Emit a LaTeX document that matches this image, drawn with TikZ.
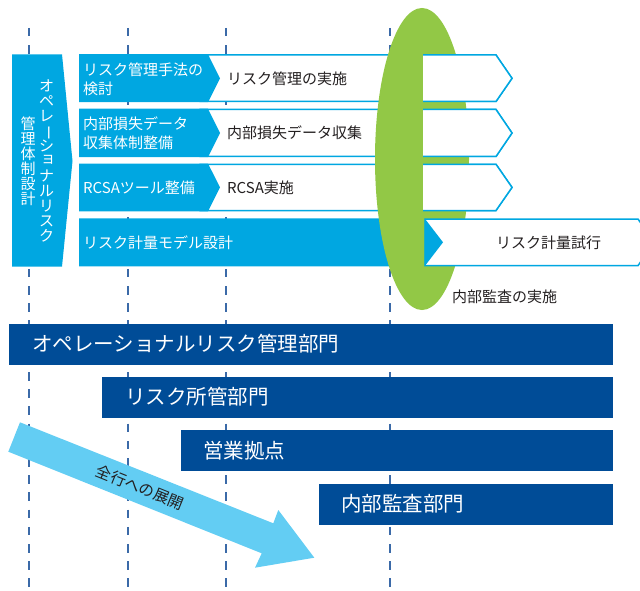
\documentclass[tikz,border=0pt]{standalone}
\usepackage{fontspec}
\setmainfont{Noto Sans CJK JP}
\definecolor{cyanB}{RGB}{0,167,225}
\definecolor{greenE}{RGB}{146,200,70}
\definecolor{navyB}{RGB}{0,76,151}
\definecolor{skyA}{RGB}{99,205,243}
\definecolor{dashC}{RGB}{59,106,168}
\definecolor{txtD}{RGB}{35,31,32}
\newcommand{\vbar}{\smash{\rotatebox[origin=c]{-90}{ー}}}
\newcommand{\vsmall}[1]{\makebox[0pt][l]{\hspace*{1.5pt}\raisebox{2.5pt}{#1}}\phantom{#1}}
\newcommand{\vfontset}{\fontsize{15}{15}\selectfont\setlength{\lineskiplimit}{-20pt}}
\begin{document}
\begin{tikzpicture}[x=1pt,y=-1pt,
  dashline/.style={draw=dashC, line width=1.3pt, dash pattern=on 8.5pt off 8.7pt},
  whitearrow/.style={fill=white, draw=cyanB, line width=1.5pt, line join=miter},
  cyanblock/.style={fill=cyanB},
  rowtxt/.style={inner sep=0pt, anchor=west, font=\fontsize{15}{19}\selectfont, align=left},
  barbox/.style={fill=navyB},
  bartxt/.style={inner sep=0pt, anchor=west, text=white, font=\fontsize{20.5}{20.5}\selectfont},
  vtxt/.style={inner sep=0pt, align=center, text=white, font=\vfontset}
]
\useasboundingbox (0,0) rectangle (640,591);
% dashed guide lines
\foreach \xx/\nm in {29/g1,128/g2,226/g3,390/g4}{
  \coordinate (\nm t) at (\xx,28);
  \coordinate (\nm b) at (\xx,591);
  \draw[dashline] (\nm t) -- (\nm b);
}
% left vertical box
\path[cyanblock] (12,54.3) -- (62,54.3) -- (72.5,161) -- (62,266.7) -- (12,266.7) -- cycle;
\node[vtxt] (vt1) at (46.7,160.5) {オ\\ペ\\レ\\\vbar\\シ\\\vsmall{ョ}\\ナ\\ル\\リ\\ス\\ク};
\node[vtxt] (vt2) at (28,161) {管\\理\\体\\制\\設\\計};
% rows 1-3 long white arrows
\path[whitearrow] (200,55) -- (496,55) -- (512,78.3) -- (496,101.5) -- (200,101.5) -- cycle;
\path[whitearrow] (200,109.5) -- (496,109.5) -- (512,133) -- (496,156.5) -- (200,156.5) -- cycle;
\path[whitearrow] (200,164.3) -- (496,164.3) -- (512,187.4) -- (496,210.5) -- (200,210.5) -- cycle;
% cyan blocks
\path[cyanblock] (79,54.25) -- (208,54.25) -- (220,78.3) -- (208,102.25) -- (79,102.25) -- cycle;
\path[cyanblock] (79,108.75) -- (208,108.75) -- (220,133) -- (208,157.25) -- (79,157.25) -- cycle;
\path[cyanblock] (79,163.55) -- (208,163.55) -- (220,187.4) -- (208,211.25) -- (79,211.25) -- cycle;
\path[cyanblock] (79,218.25) -- (425,218.25) -- (443,242.3) -- (425,266.45) -- (79,266.45) -- cycle;
% green ellipse
\fill[greenE] (422,159) ellipse [x radius=47pt, y radius=151pt];
% overlay white parts
\foreach \ya/\ym/\yb in {55/78.3/101.5, 109.5/133/156.5, 164.3/187.4/210.5}{
  \fill[white] (423,\ya) -- (496,\ya) -- (512,\ym) -- (496,\yb) -- (423,\yb) -- cycle;
  \draw[cyanB, line width=1.5pt, line join=miter] (423,\ya) -- (496,\ya) -- (512,\ym) -- (496,\yb) -- (423,\yb);
}
% row 4 white arrow
\path[whitearrow] (425,219) -- (638,219) -- (654,242.3) -- (638,265.7) -- (425,265.7) -- cycle;
\path[cyanblock] (424.5,218.25) -- (443,242.3) -- (424.5,266.45) -- cycle;
% row texts
\node[rowtxt, text=white] (r1a) at (83,79.5) {リスク管理手法の\\検討};
\node[rowtxt, text=txtD] (r1b) at (227,78.3) {リスク管理の実施};
\node[rowtxt, text=white] (r2a) at (83,133) {内部損失データ\\収集体制整備};
\node[rowtxt, text=txtD] (r2b) at (227,133) {内部損失データ収集};
\node[rowtxt, text=white] (r3a) at (83,187.6) {RCSAツール整備};
\node[rowtxt, text=txtD] (r3b) at (227,187.6) {RCSA実施};
\node[rowtxt, text=white] (r4a) at (83,242.5) {リスク計量モデル設計};
\node[rowtxt, text=txtD] (r4b) at (496,242.5) {リスク計量試行};
\node[rowtxt, text=txtD] (aud) at (452,297) {内部監査の実施};
% department bars
\path[barbox] (9,324) rectangle (613,364.5);
\node[bartxt] (d1) at (32,344) {オペレーショナルリスク管理部門};
\path[barbox] (102,377) rectangle (613,417.5);
\node[bartxt] (d2) at (125,397) {リスク所管部門};
\path[barbox] (181,430) rectangle (613,470.5);
\node[bartxt] (d3) at (203,450.3) {営業拠点};
\path[barbox] (319,484) rectangle (613,524.5);
\node[bartxt] (d4) at (341,504) {内部監査部門};
% rollout arrow
\fill[skyA] (20,422.3) -- (273.3,523.3) -- (278.3,510) -- (314.3,557.7) -- (255,567.7) -- (261.7,553.3) -- (8.3,451.7) -- cycle;
\node[inner sep=0pt, rotate=-22, text=txtD, font=\fontsize{15.5}{15.5}\selectfont] (roll) at (140,487.5) {全行への展開};
\end{tikzpicture}
\end{document}
